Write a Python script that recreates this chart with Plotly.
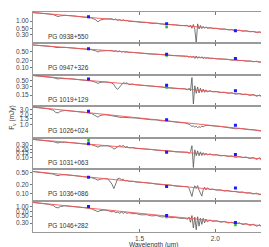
import plotly.graph_objects as go
from plotly.subplots import make_subplots

# ---------------- data ----------------
names = ["PG 0938+550", "PG 0947+326", "PG 1019+129", "PG 1026+024",
         "PG 1031+063", "PG 1036+086", "PG 1046+282"]

wave = [1.00, 1.03, 1.06, 1.08, 1.09, 1.10, 1.11, 1.13, 1.16, 1.19, 1.22, 1.25, 1.27, 1.28, 1.29, 1.31,
        1.33, 1.35, 1.36, 1.37, 1.38, 1.39, 1.40, 1.41, 1.42, 1.43, 1.44, 1.46, 1.48, 1.51, 1.54, 1.57,
        1.60, 1.63, 1.66, 1.69, 1.72, 1.75, 1.78, 1.80, 1.81, 1.82, 1.83, 1.84, 1.85, 1.86, 1.87, 1.88,
        1.89, 1.90, 1.91, 1.92, 1.93, 1.94, 1.96, 1.98, 2.01, 2.04, 2.07, 2.10, 2.13, 2.16, 2.19, 2.22,
        2.25, 2.28, 2.31, 2.34, 2.37, 2.39, 2.40, 2.41, 2.42, 2.43, 2.44, 2.45, 2.46, 2.47, 2.48, 2.49, 2.50]

flux_0938 = [2.08, 2.02, 1.85, 1.75, 1.56, 1.47, 1.57, 1.64, 1.58, 1.48, 1.42, 1.30, 1.10, 0.92, 1.07, 1.18,
             1.21, 1.21, 1.10, 1.21, 1.05, 1.13, 1.03, 1.11, 1.02, 1.06, 0.98, 0.98, 0.94, 0.885, 0.88, 0.81,
             0.82, 0.76, 0.755, 0.71, 0.71, 0.67, 0.66, 0.68, 0.59, 0.70, 0.53, 0.74, 0.49, 0.15, 0.78, 0.50,
             0.68, 0.52, 0.62, 0.53, 0.60, 0.53, 0.56, 0.525, 0.53, 0.49, 0.50, 0.46, 0.47, 0.42, 0.45, 0.41,
             0.43, 0.39, 0.405, 0.365, 0.39, 0.33, 0.41, 0.29, 0.395, 0.25, 0.405, 0.16, 0.42, 0.26, 0.375, 0.135, 0.35]
flux_0947 = [1.02, 0.96, 0.92, 0.86, 0.79, 0.76, 0.79, 0.80, 0.76, 0.71, 0.69, 0.63, 0.56, 0.50, 0.55, 0.58,
             0.58, 0.58, 0.53, 0.57, 0.51, 0.56, 0.50, 0.53, 0.49, 0.51, 0.48, 0.48, 0.46, 0.435, 0.43, 0.40,
             0.40, 0.37, 0.37, 0.35, 0.345, 0.33, 0.32, 0.325, 0.29, 0.33, 0.28, 0.33, 0.26, 0.33, 0.26, 0.31,
             0.265, 0.31, 0.255, 0.29, 0.26, 0.28, 0.26, 0.265, 0.25, 0.25, 0.233, 0.237, 0.217, 0.222, 0.209, 0.211,
             0.196, 0.202, 0.185, 0.194, 0.175, 0.188, 0.163, 0.20, 0.148, 0.224, 0.12, 0.23, 0.126, 0.21, 0.108, 0.197, 0.139]
flux_1019 = [0.80, 0.75, 0.705, 0.665, 0.62, 0.595, 0.62, 0.625, 0.595, 0.56, 0.54, 0.50, 0.445, 0.405, 0.44, 0.46,
             0.45, 0.42, 0.37, 0.28, 0.245, 0.29, 0.37, 0.435, 0.405, 0.43, 0.365, 0.385, 0.36, 0.35, 0.33, 0.325,
             0.305, 0.30, 0.28, 0.28, 0.265, 0.26, 0.258, 0.235, 0.27, 0.218, 0.67, 0.071, 0.33, 0.175, 0.30, 0.18,
             0.27, 0.19, 0.25, 0.19, 0.235, 0.195, 0.218, 0.198, 0.204, 0.186, 0.192, 0.175, 0.183, 0.162, 0.172, 0.157,
             0.164, 0.146, 0.158, 0.136, 0.152, 0.119, 0.167, 0.104, 0.171, 0.081, 0.174, 0.087, 0.158, 0.072, 0.163, 0.090, 0.141]
flux_1026 = [3.50, 3.36, 3.11, 2.81, 2.40, 2.29, 2.60, 2.76, 2.65, 2.48, 2.39, 2.19, 1.88, 1.69, 1.88, 2.02,
             1.97, 1.87, 1.79, 1.80, 1.68, 1.73, 1.64, 1.66, 1.63, 1.65, 1.60, 1.60, 1.58, 1.50, 1.47, 1.39,
             1.38, 1.29, 1.28, 1.21, 1.19, 1.13, 1.11, 1.07, 1.00, 0.93, 0.85, 0.89, 0.81, 0.87, 0.78, 0.84,
             0.80, 0.87, 0.83, 0.89, 0.91, 0.92, 0.91, 0.91, 0.865, 0.85, 0.81, 0.81, 0.76, 0.72, 0.74, 0.71,
             0.705, 0.67, 0.666, 0.64, 0.634, 0.60, 0.63, 0.58, 0.63, 0.565, 0.615, 0.553, 0.60, 0.537, 0.58, 0.54, 0.56]
flux_1031 = [0.50, 0.47, 0.44, 0.41, 0.38, 0.363, 0.385, 0.39, 0.37, 0.35, 0.335, 0.31, 0.273, 0.25, 0.277, 0.289,
             0.283, 0.248, 0.211, 0.227, 0.263, 0.29, 0.268, 0.29, 0.248, 0.265, 0.234, 0.242, 0.224, 0.22, 0.205, 0.203,
             0.19, 0.188, 0.177, 0.175, 0.164, 0.164, 0.155, 0.16, 0.141, 0.166, 0.285, 0.041, 0.197, 0.116, 0.179, 0.116,
             0.165, 0.118, 0.153, 0.122, 0.145, 0.124, 0.137, 0.124, 0.128, 0.115, 0.12, 0.109, 0.114, 0.10, 0.109, 0.098,
             0.104, 0.09, 0.10, 0.083, 0.098, 0.066, 0.113, 0.052, 0.116, 0.047, 0.118, 0.042, 0.108, 0.049, 0.11, 0.045, 0.096]
flux_1036 = [0.55, 0.52, 0.485, 0.452, 0.417, 0.40, 0.425, 0.43, 0.41, 0.38, 0.37, 0.342, 0.307, 0.282, 0.305, 0.318,
             0.311, 0.211, 0.149, 0.234, 0.318, 0.328, 0.295, 0.305, 0.265, 0.28, 0.257, 0.263, 0.246, 0.241, 0.225, 0.223,
             0.209, 0.207, 0.194, 0.193, 0.18, 0.18, 0.17, 0.173, 0.151, 0.116, 0.082, 0.138, 0.185, 0.151, 0.188, 0.133,
             0.10, 0.084, 0.136, 0.167, 0.135, 0.158, 0.137, 0.144, 0.133, 0.135, 0.124, 0.128, 0.119, 0.12, 0.112, 0.115,
             0.106, 0.109, 0.099, 0.105, 0.093, 0.102, 0.084, 0.109, 0.075, 0.112, 0.069, 0.115, 0.064, 0.108, 0.068, 0.102, 0.079]
flux_1046 = [1.40, 1.32, 1.22, 1.12, 0.97, 0.93, 1.03, 1.09, 1.04, 0.97, 0.94, 0.86, 0.76, 0.70, 0.757, 0.79,
             0.76, 0.69, 0.72, 0.65, 0.68, 0.62, 0.68, 0.62, 0.673, 0.617, 0.648, 0.604, 0.608, 0.553, 0.56, 0.511,
             0.525, 0.473, 0.483, 0.446, 0.454, 0.426, 0.429, 0.398, 0.47, 0.317, 0.524, 0.207, 0.47, 0.182, 0.48, 0.238,
             0.431, 0.272, 0.43, 0.303, 0.405, 0.327, 0.379, 0.339, 0.357, 0.319, 0.339, 0.302, 0.317, 0.279, 0.305, 0.267,
             0.288, 0.25, 0.275, 0.236, 0.264, 0.208, 0.268, 0.169, 0.268, 0.142, 0.259, 0.176, 0.266, 0.138, 0.251, 0.146, 0.235]
spectra = [flux_0938, flux_0947, flux_1019, flux_1026, flux_1031, flux_1036, flux_1046]

model_wave = [1.00, 1.25, 1.50, 1.75, 2.00, 2.25, 2.50]
model_0938 = [2.10, 1.34, 0.933, 0.687, 0.525, 0.416, 0.336]
model_0947 = [1.02, 0.653, 0.453, 0.334, 0.255, 0.202, 0.163]
model_1019 = [0.80, 0.512, 0.355, 0.262, 0.200, 0.158, 0.128]
model_1026 = [3.56, 2.28, 1.58, 1.16, 0.89, 0.705, 0.57]
model_1031 = [0.50, 0.32, 0.222, 0.164, 0.125, 0.099, 0.080]
model_1036 = [0.55, 0.352, 0.244, 0.18, 0.138, 0.109, 0.088]
model_1046 = [1.40, 0.896, 0.622, 0.458, 0.35, 0.277, 0.224]
models = [model_0938, model_0947, model_1019, model_1026, model_1031, model_1036, model_1046]

# 2MASS J, H, Ks photometry (blue)
jhk_wave = [1.235, 1.662, 2.159]
jhk_flux = [[1.45, 0.79, 0.43], [0.69, 0.40, 0.26], [0.59, 0.347, 0.219], [2.59, 1.40, 0.93],
            [0.34, 0.16, 0.13], [0.357, 0.176, 0.155], [1.04, 0.53, 0.31]]
jhk_err = [[0.03, 0.02, 0.01], [0.02, 0.01, 0.01], [0.02, 0.01, 0.02], [0.05, 0.03, 0.03],
           [0.01, 0.01, 0.01], [0.01, 0.01, 0.01], [0.02, 0.02, 0.01]]
# additional photometry (green): panel index, wavelength, flux, error
extra_panel = [0, 1, 2, 4, 6, 6]
extra_wave = [1.662, 1.662, 1.662, 1.235, 1.662, 2.159]
extra_flux = [0.59, 0.35, 0.29, 0.46, 0.47, 0.26]
extra_err = [0.02, 0.01, 0.01, 0.09, 0.02, 0.02]

ytick_vals = [[0.3, 0.5, 1.0], [0.1, 0.2, 0.5], [0.15, 0.3, 0.5], [1.0, 1.5, 2.0, 3.0],
              [0.1, 0.15, 0.2, 0.3], [0.1, 0.2, 0.5], [0.3, 0.5, 0.7, 1.0]]
ytick_text = [["0.30", "0.50", "1.00"], ["0.10", "0.20", "0.50"], ["0.15", "0.30", "0.50"],
              ["1.0", "1.5", "2.0", "3.0"], ["0.10", "0.15", "0.20", "0.30"],
              ["0.10", "0.20", "0.50"], ["0.30", "0.50", "0.70", "1.00"]]
xtick_vals = [1.5, 2.0]
xtick_text = ["1.5", "2.0"]

# ---------------- layout / styling ----------------
yranges = [[-0.849, 0.341], [-1.313, 0.078], [-1.238, -0.074], [-0.428, 0.573],
           [-1.454, -0.236], [-1.223, -0.182], [-0.814, 0.206]]

FONT = "Liberation Sans, Arial, sans-serif"
n = len(names)
fig = make_subplots(rows=n, cols=1, shared_xaxes=True, vertical_spacing=0)

for i in range(n):
    r = i + 1
    fig.add_trace(go.Scatter(x=wave, y=spectra[i], mode="lines",
                             line=dict(color="#555555", width=0.8), showlegend=False), row=r, col=1)
    fig.add_trace(go.Scatter(x=model_wave, y=models[i], mode="lines",
                             line=dict(color="rgba(245,85,85,0.9)", width=1.0), showlegend=False), row=r, col=1)
    ex = [extra_wave[k] for k in range(len(extra_panel)) if extra_panel[k] == i]
    ey = [extra_flux[k] for k in range(len(extra_panel)) if extra_panel[k] == i]
    ee = [extra_err[k] for k in range(len(extra_panel)) if extra_panel[k] == i]
    if ex:
        fig.add_trace(go.Scatter(x=ex, y=ey, mode="markers",
                                 marker=dict(color="#22bb22", size=2.5, symbol="square"),
                                 error_y=dict(type="data", array=ee, color="#22bb22", thickness=0.8, width=0),
                                 showlegend=False, cliponaxis=False), row=r, col=1)
    fig.add_trace(go.Scatter(x=jhk_wave, y=jhk_flux[i], mode="markers",
                             marker=dict(color="#1a1aff", size=3, symbol="square"),
                             error_y=dict(type="data", array=jhk_err[i], color="#1a1aff", thickness=0.8, width=0),
                             showlegend=False), row=r, col=1)
    fig.update_yaxes(type="log", range=yranges[i], tickvals=ytick_vals[i], ticktext=ytick_text[i],
                     ticks="outside", ticklen=2, tickwidth=1, tickcolor="#777",
                     showline=True, linecolor="#9a9a9a", linewidth=1, mirror=True,
                     showgrid=False, zeroline=False,
                     tickfont=dict(size=6.5, color="#444", family=FONT), row=r, col=1)
    fig.update_xaxes(type="log", range=[0.0, 0.39794], tickvals=xtick_vals, ticktext=xtick_text,
                     ticks="inside", ticklen=3, tickwidth=1, tickcolor="#777",
                     showline=True, linecolor="#9a9a9a", linewidth=1, mirror="allticks",
                     showgrid=False, zeroline=False,
                     tickfont=dict(size=6.5, color="#444", family=FONT), row=r, col=1)
    xref = "x domain" if r == 1 else "x%d domain" % r
    yref = "y domain" if r == 1 else "y%d domain" % r
    fig.add_annotation(text=names[i], xref=xref, yref=yref, x=0.054, y=0.22,
                       xanchor="left", yanchor="middle", showarrow=False,
                       font=dict(size=6.5, color="#333", family=FONT))

fig.add_annotation(text="Wavelength (\u03bcm)", xref="paper", yref="paper", x=0.5, y=-0.058,
                   xanchor="center", yanchor="middle", showarrow=False,
                   font=dict(size=6.5, color="#333", family=FONT))
fig.add_annotation(text="F<sub>\u03bd</sub> (mJy)", xref="paper", yref="paper", x=-0.087, y=0.52,
                   xanchor="center", yanchor="middle", showarrow=False, textangle=-90,
                   font=dict(size=6.5, color="#333", family=FONT))

fig.update_layout(width=269, height=247, margin=dict(l=25, r=3, t=4, b=23),
                  paper_bgcolor="white", plot_bgcolor="white", showlegend=False,
                  font=dict(family=FONT))
fig.write_html("out.html")
